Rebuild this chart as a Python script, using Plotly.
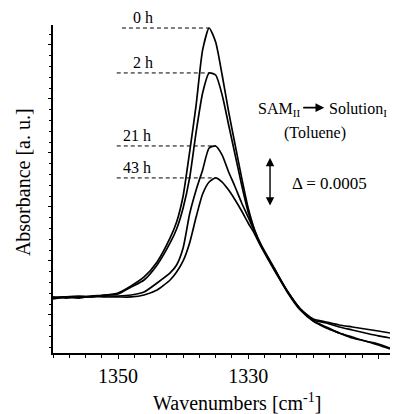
import plotly.graph_objects as go

# ---- data (absorbance in units of 1e-4, arbitrary offset) ----
wavenumber = [1360, 1358, 1356, 1354, 1352, 1350, 1348, 1346, 1344, 1342, 1341, 1340,
              1339, 1338, 1337, 1336, 1335, 1334, 1333, 1332, 1331, 1330, 1329, 1328,
              1326, 1324, 1322, 1320, 1318, 1316, 1314, 1312, 1310, 1308.2]

abs_0h = [6.57, 6.67, 6.62, 6.76, 6.85, 7.04, 7.69, 8.52, 9.91, 12.13, 13.61, 16.02,
          20.09, 24.44, 29.54, 31.57, 30.28, 27.22, 23.80, 20.74, 17.69, 14.91, 12.87, 11.48,
          9.35, 7.22, 5.56, 4.44, 3.80, 3.33, 2.87, 2.59, 2.22, 1.85]

abs_2h = [6.48, 6.67, 6.76, 6.67, 6.85, 6.94, 7.59, 8.24, 9.63, 11.67, 12.96, 14.91,
          17.69, 21.94, 25.56, 27.41, 27.22, 25.37, 22.59, 19.81, 17.04, 14.54, 12.78, 11.39,
          9.26, 7.13, 5.46, 4.44, 3.89, 3.33, 2.96, 2.59, 2.31, 1.94]

abs_21h = [6.67, 6.57, 6.67, 6.67, 6.76, 6.76, 6.85, 7.13, 7.96, 8.89, 9.63, 11.20,
           14.35, 16.57, 18.43, 20.46, 20.65, 19.81, 18.24, 16.85, 15.37, 14.07, 12.69, 11.39,
           9.26, 7.22, 5.56, 4.63, 4.35, 4.07, 3.89, 3.70, 3.52, 3.33]

abs_43h = [6.57, 6.67, 6.57, 6.76, 6.67, 6.67, 6.67, 6.85, 7.31, 8.24, 8.98, 10.00,
           11.67, 14.07, 16.20, 17.31, 17.69, 17.31, 16.57, 15.65, 14.63, 13.52, 12.50, 11.30,
           9.17, 7.22, 5.56, 4.54, 4.26, 3.89, 3.61, 3.33, 3.06, 2.87]

series_labels = ["0 h", "2 h", "21 h", "43 h"]
series_values = [abs_0h, abs_2h, abs_21h, abs_43h]

x_tick_values = [1350, 1330, 1310]
x_tick_labels = ["1350", "1330", "1310"]

# ---- layout constants ----
label_x = [1346.2, 1346.2, 1347.1, 1347.1]
dash_start = [1349.4, 1350.2, 1350.2, 1350.2]
FONT = "Liberation Serif, Times New Roman, serif"
DX, DY = "x domain", "y domain"

fig = go.Figure()

for name, vals in zip(series_labels, series_values):
    fig.add_trace(go.Scatter(
        x=wavenumber, y=vals, mode="lines", name=name,
        line=dict(color="black", width=1.7, shape="spline", smoothing=0.6),
        hoverinfo="skip", showlegend=False))

for name, vals, lx, ds in zip(series_labels, series_values, label_x, dash_start):
    peak = max(vals)
    peak_x = wavenumber[vals.index(peak)]
    fig.add_trace(go.Scatter(
        x=[ds, peak_x], y=[peak, peak], mode="lines",
        line=dict(color="black", width=1, dash="4px,3px"),
        hoverinfo="skip", showlegend=False))
    fig.add_annotation(x=lx, y=peak, text=name, showarrow=False,
                       xanchor="center", yanchor="bottom", yshift=0,
                       font=dict(family=FONT, size=16, color="black"))

# text annotations (domain coordinates)
fig.add_annotation(x=0.602, y=0.741, xref=DX, yref=DY,
                   text="SAM<sub>II</sub>", showarrow=False, xanchor="left",
                   yanchor="middle", font=dict(family=FONT, size=16, color="black"))
fig.add_annotation(x=0.813, y=0.741, xref=DX, yref=DY,
                   text="Solution<sub>I</sub>", showarrow=False, xanchor="left",
                   yanchor="middle", font=dict(family=FONT, size=16, color="black"))
# horizontal arrow
fig.add_annotation(x=0.805, y=0.748, xref=DX, yref=DY,
                   ax=0.738, ay=0.748, axref=DX, ayref=DY,
                   text="", showarrow=True, arrowhead=2, arrowsize=1.1,
                   arrowwidth=1.6, arrowcolor="black")
fig.add_annotation(x=0.777, y=0.671, xref=DX, yref=DY,
                   text="(Toluene)", showarrow=False, xanchor="center",
                   yanchor="middle", font=dict(family=FONT, size=16, color="black"))
fig.add_annotation(x=0.703, y=0.518, xref=DX, yref=DY,
                   text="Δ = 0.0005", showarrow=False, xanchor="left",
                   yanchor="middle", font=dict(family=FONT, size=17, color="black"))
# vertical double arrow
fig.add_annotation(x=0.644, y=0.595, xref=DX, yref=DY,
                   ax=0.644, ay=0.445, axref=DX, ayref=DY,
                   text="", showarrow=True, arrowhead=2, startarrowhead=2,
                   arrowside="end+start", arrowsize=1.2, startarrowsize=1.2,
                   arrowwidth=1.4, arrowcolor="black")

# axis titles
fig.add_annotation(x=0.546, y=-0.149, xref="paper", yref="paper",
                   text="Wavenumbers [cm<sup>-1</sup>]", showarrow=False,
                   xanchor="center", yanchor="middle",
                   font=dict(family=FONT, size=20, color="black"))
fig.add_annotation(x=-0.089, y=0.521, xref="paper", yref="paper",
                   text="Absorbance [a. u.]", showarrow=False, textangle=-90,
                   xanchor="center", yanchor="middle",
                   font=dict(family=FONT, size=20, color="black"))

fig.update_layout(
    width=397, height=414,
    margin=dict(l=53, r=7, t=25, b=61),
    paper_bgcolor="white", plot_bgcolor="white",
    showlegend=False,
    font=dict(family=FONT, color="black"),
    xaxis=dict(range=[1360, 1308.2], tickmode="array",
               tickvals=x_tick_values, ticktext=x_tick_labels,
               ticks="outside", ticklen=4, tickwidth=1, tickcolor="black",
               ticklabelstandoff=0,
               minor=dict(dtick=2.5, tick0=1310, ticks="outside", ticklen=3,
                          tickcolor="black", showgrid=False),
               showline=True, linecolor="black", linewidth=1.5,
               showgrid=False, zeroline=False,
               tickfont=dict(family=FONT, size=20, color="black")),
    yaxis=dict(range=[1.48, 31.85], tick0=0, dtick=5,
               ticks="outside", ticklen=3, tickcolor="black",
               minor=dict(dtick=1, ticks="outside", ticklen=2,
                          tickcolor="black", showgrid=False),
               showticklabels=False,
               showline=True, linecolor="black", linewidth=1.5,
               showgrid=False, zeroline=False),
)

fig.write_html("out.html", config={"displayModeBar": False},
               post_script="document.body.style.margin='0';")
